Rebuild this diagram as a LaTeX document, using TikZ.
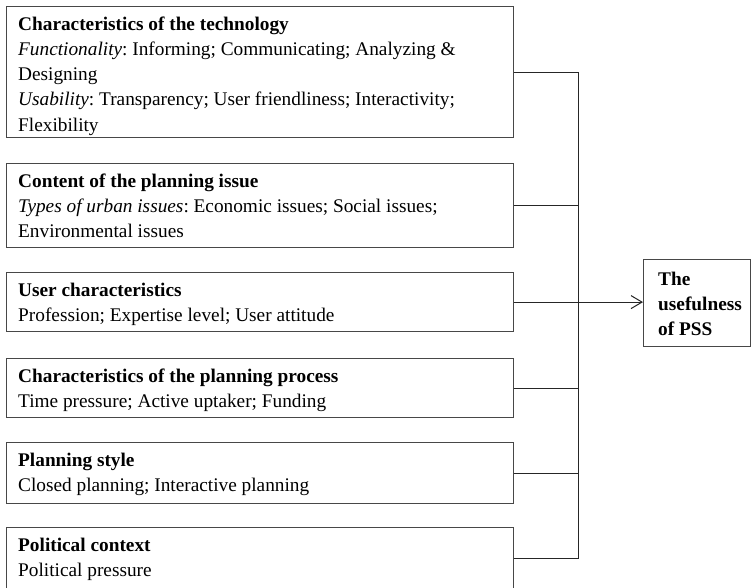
\documentclass[tikz,border=0pt]{standalone}
\usepackage{fontspec}
\setmainfont{Liberation Serif}
\usetikzlibrary{arrows.meta}
\frenchspacing
\begin{document}
\begin{tikzpicture}[x=1pt,y=-1pt,
  box/.style={draw=black!72, line width=1.2pt, rectangle, inner sep=0pt, anchor=north west, minimum width=507pt},
  txt/.style={anchor=north west, inner sep=0pt, align=left, font=\fontsize{19.3pt}{25.2pt}\selectfont},
  conn/.style={draw=black!85, line width=1pt}]
\useasboundingbox (0,0) rectangle (751,587);
% factor boxes
\node[box, minimum height=131pt] (b1) at (6,6) {};
\node[box, minimum height=84pt] (b2) at (6,163) {};
\node[box, minimum height=59pt] (b3) at (6,272) {};
\node[box, minimum height=59pt] (b4) at (6,358) {};
\node[box, minimum height=61pt] (b5) at (6,442) {};
\node[box, minimum height=61pt] (b6) at (6,527) {};
% outcome box
\node[box, minimum width=107pt, minimum height=87pt] (out) at (643,259) {};
% texts
\node[txt] (t1) at ([xshift=12pt,yshift=-10.5pt]b1.north west)
  {\textbf{Characteristics of the technology}\\
   \textit{Functionality}: Informing; Communicating; Analyzing \&\\
   Designing\\
   \textit{Usability}: Transparency; User friendliness; Interactivity;\\
   Flexibility};
\node[txt] (t2) at ([xshift=12pt,yshift=-10.5pt]b2.north west)
  {\textbf{Content of the planning issue}\\
   \textit{Types of urban issues}: Economic issues; Social issues;\\
   Environmental issues};
\node[txt] (t3) at ([xshift=12pt,yshift=-10.5pt]b3.north west)
  {\textbf{User characteristics}\\
   Profession; Expertise level; User attitude};
\node[txt] (t4) at ([xshift=12pt,yshift=-10.5pt]b4.north west)
  {\textbf{Characteristics of the planning process}\\
   Time pressure; Active uptaker; Funding};
\node[txt] (t5) at ([xshift=12pt,yshift=-10.5pt]b5.north west)
  {\textbf{Planning style}\\
   Closed planning; Interactive planning};
\node[txt] (t6) at ([xshift=12pt,yshift=-10.5pt]b6.north west)
  {\textbf{Political context}\\
   Political pressure};
\node[txt] (tout) at ([xshift=15pt,yshift=-12.7pt]out.north west)
  {\textbf{The}\\ \textbf{usefulness}\\ \textbf{of PSS}};
% connectors
\coordinate (trunk) at (578,300);
\draw[conn] (b1.east) -- (b1.east -| trunk) -- (b6.east -| trunk) -- (b6.east);
\foreach \b in {b2,b4,b5} {
  \draw[conn] (\b.east) -- (\b.east -| trunk);
}
\draw[conn, -{Straight Barb[length=11pt,width=13pt,line width=1pt]}] (b3.east) -- (b3.east -| out.west);
\end{tikzpicture}
\end{document}
